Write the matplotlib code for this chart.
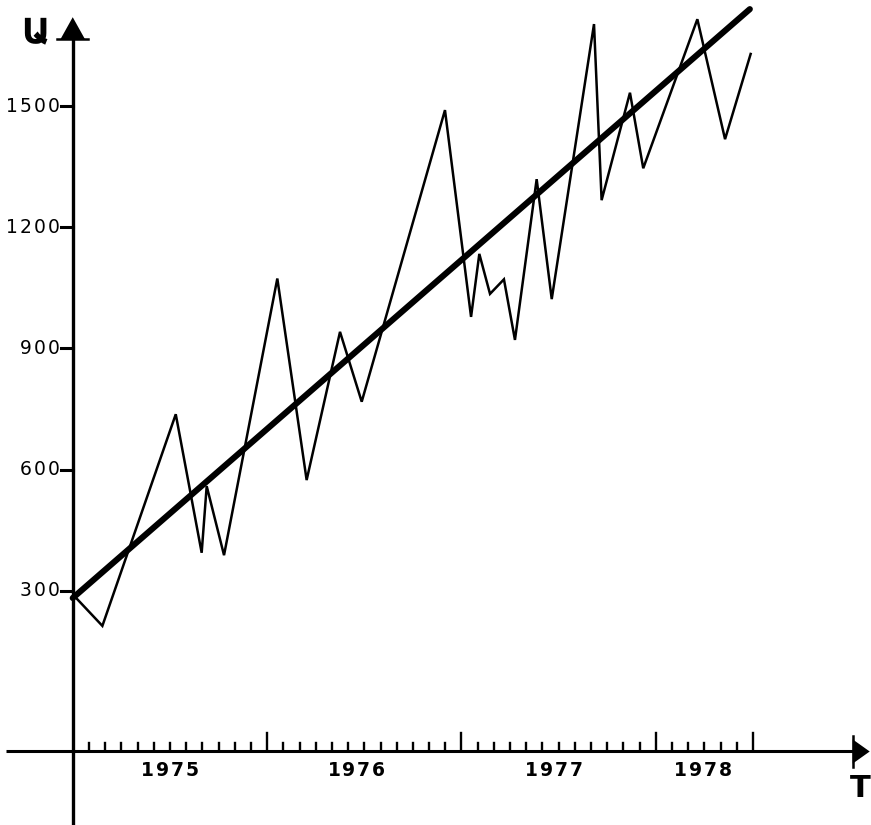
import matplotlib
matplotlib.use('Agg')
import matplotlib.pyplot as plt
import numpy as np

# months counted from January 1975
months = [0.14, 1.83, 6.36, 7.96, 8.27, 9.34, 12.63, 14.44, 16.5, 17.84,
          22.98, 24.59, 25.1, 25.76, 26.62, 27.3, 28.64, 29.57, 32.18, 32.65,
          34.4, 35.22, 38.56, 40.27, 41.85]
values = [285, 213, 737, 394, 559, 388, 1073, 574, 941, 768,
          1490, 978, 1134, 1035, 1071, 921, 1319, 1022, 1703, 1267,
          1533, 1346, 1715, 1418, 1629]

trend_months = [0.0, 41.8]
trend_values = [282, 1740]

y_ticks = [300, 600, 900, 1200, 1500]
year_labels = ['1975', '1976', '1977', '1978']
year_label_pos = [6.0, 17.5, 29.7, 38.9]

fig = plt.figure(figsize=(8.71, 8.25), dpi=100)
ax = fig.add_axes([0, 0, 1, 1])
ax.set_xlim(-4.49, 49.28)
ax.set_ylim(-280, 1762.6)
ax.axis('off')

x_axis_y = -98

# axes
ax.plot([-4.1, 48.3], [x_axis_y, x_axis_y], color='black', lw=2.2, solid_capstyle='butt')
ax.plot([0, 0], [-280, 1670], color='black', lw=2.4, solid_capstyle='butt')
ax.fill([-0.75, 0.75, 0], [1666, 1666, 1720], color='black', lw=0)
ax.plot([-0.95, 0.95], [1666, 1666], color='black', lw=1.8)
ax.fill([48.15, 48.15, 49.2], [x_axis_y - 30, x_axis_y + 30, x_axis_y], color='black', lw=0)
ax.plot([48.15, 48.15], [x_axis_y - 38, x_axis_y + 38], color='black', lw=1.8)

# month ticks
for m in range(1, 43):
    h = 45 if m % 12 == 0 or m == 42 else 22
    ax.plot([m, m], [x_axis_y, x_axis_y + h], color='black', lw=1.7)

# value ticks
for v in y_ticks:
    ax.plot([-0.75, 0], [v, v], color='black', lw=2.2)


def spaced(x, y, s, pitch, anchor='center', **kw):
    n = len(s)
    for i, ch in enumerate(s):
        if anchor == 'right':
            off = -(n - 1 - i) * pitch
        else:
            off = (i - (n - 1) / 2) * pitch
        ax.annotate(ch, (x, y), xytext=(off, 0), textcoords='offset pixels',
                    ha='center', va='center', **kw)


for v in y_ticks:
    spaced(-1.15, v, str(v), 14.2, anchor='right', fontsize=13.5,
           family='DejaVu Sans')

for lab, pos in zip(year_labels, year_label_pos):
    spaced(pos, -144, lab, 14.8, fontsize=13.5, fontweight='bold',
           family='DejaVu Sans')

ax.text(48.62, -190, 'T', ha='center', va='center', fontsize=22,
        fontweight='bold', family='DejaVu Sans')
ax.text(-2.3, 1682, 'Ա', ha='center', va='center', fontsize=25,
        fontweight='bold', family='DejaVu Sans')

# series and trend
ax.plot(months, values, color='black', lw=1.8, solid_joinstyle='miter')
ax.plot(trend_months, trend_values, color='black', lw=4.4, solid_capstyle='round')

fig.savefig('out.png', dpi=100, facecolor='white')
